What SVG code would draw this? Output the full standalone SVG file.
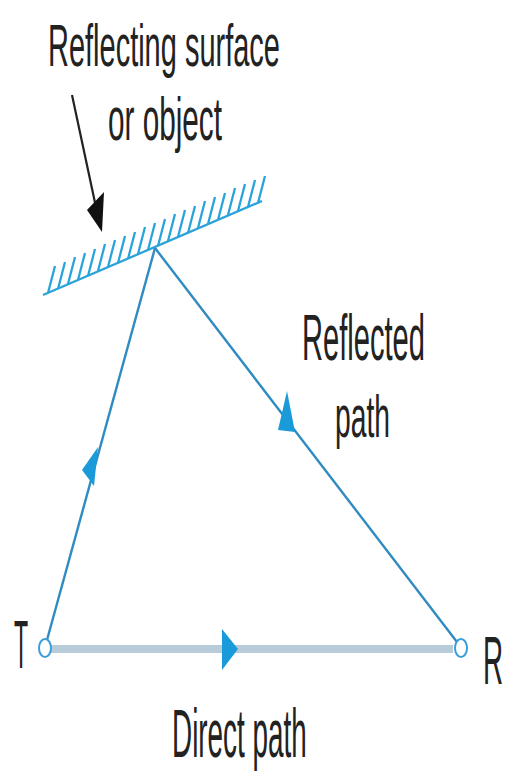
<svg xmlns="http://www.w3.org/2000/svg" width="508" height="771" viewBox="0 0 508 771">
<style>
.lbl{font-family:"Liberation Sans",Arial,sans-serif;fill:#222;}
.ray{stroke:#2f8bc0;stroke-width:2.4;fill:none;}
.hatch{stroke:#2aa3db;stroke-width:2.3;fill:none;}
.head{fill:#1a9ad8;}
.node{fill:#fff;stroke:#3a9fd6;stroke-width:2;}
</style>
<rect width="508" height="771" fill="#fff"/>
<g id="labels">
<text class="lbl" font-size="60" transform="translate(48,66) scale(0.483,1)">Reflecting surface</text>
<text class="lbl" font-size="62" transform="translate(108,140) scale(0.479,1)">or object</text>
<text class="lbl" font-size="64" transform="translate(302,360) scale(0.455,1)">Reflected</text>
<text class="lbl" font-size="60" transform="translate(335,437) scale(0.471,1)">path</text>
<text class="lbl" font-size="68" transform="translate(172,757) scale(0.41,1)">Direct path</text>
</g>
<g id="surface">
<line class="hatch" x1="43" y1="295" x2="262" y2="201"/>
<path class="hatch" d="M48,293 l7,-27 M58,289 l7,-27 M68,284 l7,-27 M78,280 l7,-27 M88,276 l7,-27 M98,271 l7,-27 M108,267 l7,-27 M118,263 l7,-27 M128,259 l7,-27 M138,254 l7,-27 M148,250 l7,-27 M158,246 l7,-27 M168,241 l7,-27 M178,237 l7,-27 M188,233 l7,-27 M198,228 l7,-27 M208,224 l7,-27 M218,220 l7,-27 M228,215 l7,-27 M238,211 l7,-27 M248,207 l7,-27 M258,203 l7,-27"/>
</g>
<g id="pointer">
<line x1="72" y1="95" x2="97" y2="212" stroke="#222" stroke-width="2.2"/>
<polygon points="102,232 87,210 104,192" fill="#111"/>
</g>
<g id="connectors">
<line x1="51" y1="649" x2="453" y2="649" stroke="#b7ccd8" stroke-width="8"/>
<polygon class="head" points="222,629 238,649 222,670"/>
<line class="ray" x1="47" y1="640" x2="155" y2="248"/>
<polygon class="head" points="98,447 82,470 94,486"/>
<line class="ray" x1="155" y1="248" x2="457" y2="642"/>
<polygon class="head" points="287,391 278,430 295,432"/>
</g>
<g id="T">
<ellipse class="node" cx="45" cy="648" rx="6" ry="9"/>
<text class="lbl" font-size="68" transform="translate(14,668) scale(0.34,1)">T</text>
</g>
<g id="R">
<ellipse class="node" cx="461" cy="648" rx="6" ry="9"/>
<text class="lbl" font-size="68" transform="translate(483,684) scale(0.41,1)">R</text>
</g>
</svg>
